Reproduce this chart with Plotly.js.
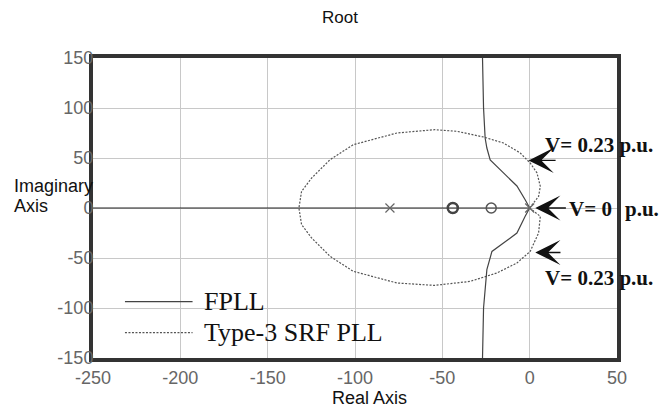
<!DOCTYPE html>
<html>
<head>
<meta charset="utf-8">
<script src="https://cdn.plot.ly/plotly-3.0.1.min.js"></script>
<style>html,body{margin:0;padding:0;background:#fff;}#chart{width:662px;height:410px;}</style>
</head>
<body>
<div id="chart"></div>
<script>
// ---- data ----
var fpllX = [-27, -26.4, -25.5, -24.5, -22.6, -15, -7.3, -2.5, 0, -2.5, -7.3, -15, -21.6, -24.5, -25.5, -26.4, -27];
var fpllY = [150, 100, 70, 60, 48, 35, 22, 8, 0, -8, -25, -35, -43.4, -61.7, -81.7, -100, -150];

var srfX = [0, 5.1, 6.1, 4.2, 0.3, -5.4, -15, -26.4, -41.7, -54.5, -76, -101, -114.3, -124.8, -130.6, -132.1,
            -130.6, -124.8, -114.3, -101, -76, -54.5, -34.1, -18.8, -7.3, 0.3, 5.1, 6.1, 0];
var srfY = [0, 11.6, 21.6, 35, 45, 55, 65, 71, 76.7, 78.3, 75, 63.3, 48.3, 30, 16.6, 0,
            -16.6, -30, -48.3, -63.3, -75, -77.4, -73.4, -65, -55, -43.4, -25, -8.4, 0];

var realBranchX = [-250, 0];
var realBranchY = [0, 0];

var poleX = [-80, 0];
var poleY = [0, 0];
var zeroX = [-44, -22];
var zeroY = [0, 0];
var doubleZeroX = [-44];
var doubleZeroY = [0];

var xTicks = [-250, -200, -150, -100, -50, 0, 50];
var yTicks = [-150, -100, -50, 0, 50, 100, 150];

var legendNames = ['FPLL', 'Type-3 SRF PLL'];
var arrowLabels = ['V= 0.23 p.u.', 'V= 0', 'p.u.', 'V= 0.23 p.u.'];
// arrow tips and tails (data units)
var arrowTipX = [-0.6, 3.2, 3.2];
var arrowTipY = [47.6, 0, -44.5];
var arrowTailX = [15.7, 21.6, 18.5];

var sans = 'Arial, "Liberation Sans", sans-serif';
var serif = '"Times New Roman", "Liberation Serif", serif';

var traces = [
  {x: realBranchX, y: realBranchY, mode: 'lines', line: {color: '#222', width: 1.2}, showlegend: false, hoverinfo: 'skip'},
  {x: srfX, y: srfY, mode: 'lines', name: legendNames[1], line: {color: '#555', width: 1.2, dash: '2px,1.5px'}, showlegend: false},
  {x: fpllX, y: fpllY, mode: 'lines', name: legendNames[0], line: {color: '#444', width: 1.2}, showlegend: false},
  {x: poleX, y: poleY, mode: 'markers', marker: {symbol: 'x-thin-open', size: 9, color: '#666', line: {width: 1.2, color: '#666'}}, showlegend: false},
  {x: zeroX, y: zeroY, mode: 'markers', marker: {symbol: 'circle-open', size: 10, color: '#555', line: {width: 1.5, color: '#555'}}, showlegend: false},
  {x: doubleZeroX, y: doubleZeroY, mode: 'markers', marker: {symbol: 'circle-open', size: 10, color: '#444', line: {width: 2.5, color: '#444'}}, showlegend: false}
];

var annotations = [];
for (var i = 0; i < arrowTipX.length; i++) {
  annotations.push({
    x: arrowTipX[i], y: arrowTipY[i], xref: 'x', yref: 'y',
    ax: arrowTailX[i], ay: arrowTipY[i], axref: 'x', ayref: 'y',
    showarrow: true, arrowhead: 3, arrowsize: 3, arrowwidth: 1.4, arrowcolor: '#111', text: ''
  });
}
function txt(t, x, y, opts) {
  var a = {text: t, x: x, y: y, xref: 'paper', yref: 'paper', showarrow: false,
           xanchor: 'left', yanchor: 'middle', font: {family: serif, size: 21, color: '#111', weight: 'bold'}};
  for (var k in (opts || {})) a[k] = opts[k];
  return a;
}
annotations.push(txt('<b>' + arrowLabels[0] + '</b>', 0.8588, 0.711));
annotations.push(txt('<b>' + arrowLabels[1] + '</b>', 0.9046, 0.4977));
annotations.push(txt('<b>' + arrowLabels[2] + '</b>', 1.0115, 0.4977));
annotations.push(txt('<b>' + arrowLabels[3] + '</b>', 0.8588, 0.2677));
// legend texts
annotations.push(txt(legendNames[0], 0.2074, 0.1877, {font: {family: serif, size: 26, color: '#111'}}));
annotations.push(txt(legendNames[1], 0.2074, 0.0843, {font: {family: serif, size: 26, color: '#111'}}));
// axis titles
annotations.push({text: 'Real Axis', x: 0.527, y: -0.132, xref: 'paper', yref: 'paper', showarrow: false,
                  xanchor: 'center', yanchor: 'middle', font: {family: sans, size: 18, color: '#111'}});
annotations.push({text: 'Imaginary', x: -0.1546, y: 0.5743, xref: 'paper', yref: 'paper', showarrow: false,
                  xanchor: 'left', yanchor: 'middle', font: {family: sans, size: 18, color: '#111'}});
annotations.push({text: 'Axis', x: -0.1546, y: 0.5077, xref: 'paper', yref: 'paper', showarrow: false,
                  xanchor: 'left', yanchor: 'middle', font: {family: sans, size: 18, color: '#111'}});

var shapes = [
  {type: 'rect', xref: 'paper', yref: 'paper', x0: 0.036, x1: 0.532, y0: 0.028, y1: 0.244,
   fillcolor: '#fff', line: {width: 0}, layer: 'between'},
  {type: 'line', xref: 'paper', yref: 'paper', x0: 0.061, x1: 0.190, y0: 0.1877, y1: 0.1877,
   line: {color: '#444', width: 1.2}},
  {type: 'line', xref: 'paper', yref: 'paper', x0: 0.061, x1: 0.190, y0: 0.0843, y1: 0.0843,
   line: {color: '#555', width: 1.2, dash: '2px,1.5px'}}
];

var axisCommon = {
  showgrid: true, gridcolor: '#c8c8c8', gridwidth: 1, zeroline: false,
  showline: true, linecolor: '#333', linewidth: 4, mirror: true, ticks: '',
  tickfont: {family: sans, size: 18, color: '#666'}
};

var layout = {
  width: 662, height: 410,
  margin: {l: 93, r: 45, t: 58, b: 52},
  paper_bgcolor: '#fff', plot_bgcolor: '#fff',
  showlegend: false,
  title: {text: 'Root', x: 340 / 662, xanchor: 'center', y: 1 - 17 / 410, yanchor: 'middle',
          font: {family: sans, size: 17, color: '#111'}},
  xaxis: Object.assign({}, axisCommon, {range: [-250, 50], tickvals: xTicks, ticktext: xTicks.map(String)}),
  yaxis: Object.assign({}, axisCommon, {range: [-150, 150], tickvals: yTicks, ticktext: yTicks.map(String), ticklabelstandoff: -8}),
  annotations: annotations,
  shapes: shapes
};

Plotly.newPlot('chart', traces, layout, {displayModeBar: false, staticPlot: true});
</script>
</body>
</html>
